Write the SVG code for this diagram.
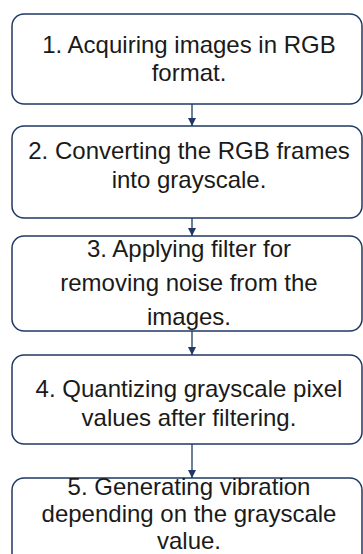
<svg xmlns="http://www.w3.org/2000/svg" width="363" height="554" viewBox="0 0 363 554">
  <style>
    .box { fill: #ffffff; stroke: #1f3864; stroke-width: 1.5; }
    .lbl { font-family: "Liberation Sans", Arial, sans-serif; font-size: 24px; fill: #1a1a1a; text-anchor: middle; }
    .link { stroke: #1f3864; stroke-width: 1.3; fill: none; marker-end: url(#head); }
  </style>
  <defs>
    <marker id="head" viewBox="0 0 10 10" refX="10" refY="5" markerWidth="8" markerHeight="8" markerUnits="userSpaceOnUse" orient="auto">
      <path d="M0,0 L10,5 L0,10 Z" fill="#1f3864"/>
    </marker>
  </defs>
  <rect width="363" height="554" fill="#ffffff"/>

  <!-- straight downward links between consecutive steps -->
  <g id="connectors">
    <line class="link" x1="192" y1="104" x2="192" y2="126"/>
    <line class="link" x1="192" y1="218" x2="192" y2="236"/>
    <line class="link" x1="192" y1="331" x2="192" y2="355"/>
    <line class="link" x1="192" y1="444" x2="192" y2="478"/>
  </g>

  <g id="step1">
    <rect class="box" x="12" y="14" width="350" height="90" rx="12"/>
    <text class="lbl" x="189" y="53">1. Acquiring images in RGB</text>
    <text class="lbl" x="189" y="81">format.</text>
  </g>

  <g id="step2">
    <rect class="box" x="12" y="126" width="350" height="92" rx="12"/>
    <text class="lbl" x="189" y="159">2. Converting the RGB frames</text>
    <text class="lbl" x="189" y="188">into grayscale.</text>
  </g>

  <g id="step3">
    <rect class="box" x="12" y="236" width="350" height="95" rx="12"/>
    <text class="lbl" x="189" y="257">3. Applying filter for</text>
    <text class="lbl" x="189" y="291">removing noise from the</text>
    <text class="lbl" x="189" y="325">images.</text>
  </g>

  <g id="step4">
    <rect class="box" x="12" y="355" width="350" height="89" rx="12"/>
    <text class="lbl" x="189" y="397">4. Quantizing grayscale pixel</text>
    <text class="lbl" x="189" y="426">values after filtering.</text>
  </g>

  <!-- last box runs past the bottom edge of the canvas -->
  <g id="step5">
    <rect class="box" x="12" y="478" width="350" height="92" rx="12"/>
    <text class="lbl" x="189" y="495">5. Generating vibration</text>
    <text class="lbl" x="189" y="522">depending on the grayscale</text>
    <text class="lbl" x="189" y="549">value.</text>
  </g>
</svg>
